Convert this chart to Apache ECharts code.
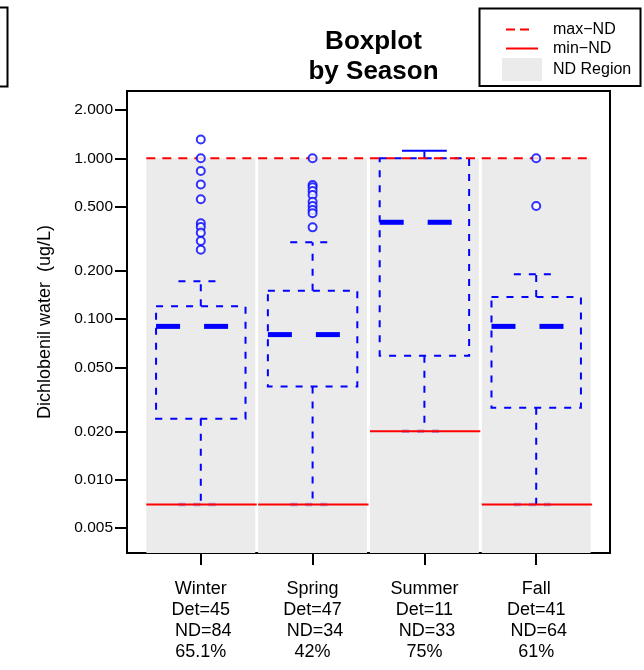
<!DOCTYPE html>
<html><head><meta charset="utf-8">
<script src="https://cdn.jsdelivr.net/npm/echarts@6/dist/echarts.min.js"></script>
<style>html,body{margin:0;padding:0;background:#fff}#c{width:644px;height:670px}</style>
</head><body><div id="c"></div>
<script>
// ---- data ----
const categories = ['Winter', 'Spring', 'Summer', 'Fall'];
const detCounts = [45, 47, 11, 41];
const ndCounts = [84, 34, 33, 64];
const ndPercent = ['65.1%', '42%', '75%', '61%'];
const maxND = [1.0, 1.0, 1.0, 1.0];
const minND = [0.007, 0.007, 0.02, 0.007];
const whiskerLow = [0.007, 0.007, 0.02, 0.007];
const q1 = [0.024, 0.038, 0.059, 0.028];
const median = [0.09, 0.08, 0.40, 0.09];
const q3 = [0.12, 0.15, 1.0, 0.137];
const whiskerHigh = [0.172, 0.30, 1.115, 0.19];
const outliersWinter = [1.31, 1.0, 0.834, 0.687, 0.556, 0.394, 0.374, 0.344, 0.306, 0.270];
const outliersSpring = [1.0, 0.682, 0.66, 0.626, 0.591, 0.537, 0.505, 0.477, 0.455, 0.372];
const outliersSummer = [];
const outliersFall = [1.0, 0.505];
const yTickValues = [0.005, 0.01, 0.02, 0.05, 0.1, 0.2, 0.5, 1, 2];
const yMin = 0.0035, yMax = 2.624;

// ---- build ----
const L = Math.log10;
const FONT = "'Liberation Sans', Arial, Helvetica, sans-serif";
const BLUE = '#0000ff', RED = '#ff0000', GRAY = '#ebebeb';
const DASH = [7, 8];
const outliers = [outliersWinter, outliersSpring, outliersSummer, outliersFall];

const boxRows = categories.map((c, i) => [i + 1, L(whiskerLow[i]), L(q1[i]), L(median[i]), L(q3[i]), L(whiskerHigh[i])]);
const ndRows = categories.map((c, i) => [i + 1, L(minND[i]), L(maxND[i])]);
const outlierPts = [];
outliers.forEach((arr, i) => arr.forEach(v => outlierPts.push([i + 1, L(v)])));

function renderGray(params, api) {
  const x = api.value(0);
  const a = api.coord([x - 0.487, api.value(2)]);
  const b = api.coord([x + 0.487, api.value(2)]);
  const bottomY = params.coordSys.y + params.coordSys.height;
  return { type: 'rect', shape: { x: a[0], y: a[1], width: b[0] - a[0], height: bottomY - a[1] }, style: { fill: GRAY } };
}
function renderRed(params, api) {
  const x = api.value(0);
  const a = api.coord([x - 0.487, api.value(1)]);
  const b = api.coord([x + 0.5, api.value(1)]);
  const c = api.coord([x - 0.487, api.value(2)]);
  const d = api.coord([x + 0.5, api.value(2)]);
  return { type: 'group', children: [
    { type: 'line', shape: { x1: a[0], y1: a[1], x2: b[0], y2: b[1] }, style: { stroke: RED, lineWidth: 2 } },
    { type: 'line', shape: { x1: c[0], y1: c[1], x2: d[0], y2: d[1] }, style: { stroke: RED, lineWidth: 2, lineDash: [9, 7] } }
  ] };
}
function renderBox(params, api) {
  const c = api.value(0);
  const lo = api.value(1), v1 = api.value(2), md = api.value(3), v3 = api.value(4), hi = api.value(5);
  const p = (dx, v) => api.coord([c + dx, v]);
  const tl = p(-0.4, v3), br = p(0.4, v1);
  const m1 = p(-0.4, md), m2 = p(0.4, md);
  const wt = p(0, v3), wh = p(0, hi), wb = p(0, v1), wl = p(0, lo);
  const s1 = p(-0.2, hi), s2 = p(0.2, hi), l1 = p(-0.2, lo), l2 = p(0.2, lo);
  const shortUpper = Math.abs(wt[1] - wh[1]) < 15;
  const ls = { stroke: BLUE, lineWidth: 2, lineDash: DASH, fill: null };
  return { type: 'group', children: [
    { type: 'rect', shape: { x: tl[0], y: tl[1], width: br[0] - tl[0], height: br[1] - tl[1] }, style: ls },
    { type: 'line', shape: { x1: wt[0], y1: wt[1], x2: wh[0], y2: wh[1] }, style: ls },
    { type: 'line', shape: { x1: s1[0], y1: s1[1], x2: s2[0], y2: s2[1] }, style: shortUpper ? { stroke: BLUE, lineWidth: 2 } : ls },
    { type: 'line', shape: { x1: wb[0], y1: wb[1], x2: wl[0], y2: wl[1] }, style: ls },
    { type: 'line', shape: { x1: l1[0], y1: l1[1], x2: l2[0], y2: l2[1] }, style: { stroke: BLUE, lineWidth: 3.5, lineDash: DASH, opacity: 0.3 } },
    { type: 'line', shape: { x1: m1[0], y1: m1[1], x2: m2[0], y2: m2[1] }, style: { stroke: BLUE, lineWidth: 5, lineDash: [24, 24] } }
  ] };
}

const chart = echarts.init(document.getElementById('c'), null, { renderer: 'canvas' });
chart.setOption({
  animation: false,
  backgroundColor: '#fff',
  textStyle: { fontFamily: FONT },
  title: {
    text: 'Boxplot\nby Season', left: 368.5, top: 22, textAlign: 'center',
    textStyle: { fontFamily: FONT, fontSize: 26, fontWeight: 'bold', color: '#000', lineHeight: 30 }
  },
  grid: { left: 127, top: 91, width: 483, height: 462, show: true, borderColor: '#000', borderWidth: 2, backgroundColor: 'transparent' },
  xAxis: {
    type: 'value', min: 0.34, max: 4.66,
    splitLine: { show: false },
    axisLine: { show: true, onZero: false, lineStyle: { color: '#000', width: 2 } },
    axisTick: { show: true, length: 12, lineStyle: { color: '#000', width: 2 }, customValues: [1, 2, 3, 4] },
    axisLabel: {
      customValues: [1, 2, 3, 4], margin: 26, fontSize: 18, lineHeight: 21, color: '#000', fontFamily: FONT,
      formatter: v => {
        const i = Math.round(v) - 1;
        return categories[i] + '\nDet=' + detCounts[i] + '\n ND=' + ndCounts[i] + '\n' + ndPercent[i];
      }
    }
  },
  yAxis: {
    type: 'value', min: L(yMin), max: L(yMax),
    name: 'Dichlobenil water  (ug/L)', nameLocation: 'middle', nameGap: 73,
    nameTextStyle: { fontSize: 18, color: '#000', fontFamily: FONT },
    splitLine: { show: false },
    axisLine: { show: true, onZero: false, lineStyle: { color: '#000', width: 2 } },
    axisTick: { show: true, length: 12, lineStyle: { color: '#000', width: 2 }, customValues: yTickValues.map(L) },
    axisLabel: {
      customValues: yTickValues.map(L), margin: 14, fontSize: 15.5, color: '#000', fontFamily: FONT,
      formatter: v => Math.pow(10, v).toFixed(3)
    }
  },
  series: [
    { type: 'custom', z: 1, renderItem: renderGray, data: ndRows, silent: true },
    { type: 'custom', z: 2, renderItem: renderBox, data: boxRows, silent: true },
    { type: 'custom', z: 3, renderItem: renderRed, data: ndRows, silent: true },
    { type: 'scatter', z: 4, data: outlierPts, symbol: 'emptyCircle', symbolSize: 8,
      itemStyle: { color: BLUE, borderColor: BLUE, borderWidth: 2 }, silent: true }
  ],
  graphic: [
    { type: 'rect', shape: { x: -10, y: 7.5, width: 17.5, height: 79 }, style: { fill: '#fff', stroke: '#000', lineWidth: 2 } },
    { type: 'rect', shape: { x: 479.5, y: 8.5, width: 161, height: 77.5 }, style: { fill: '#fff', stroke: '#000', lineWidth: 2 } },
    { type: 'line', shape: { x1: 506, y1: 29.5, x2: 530, y2: 29.5 }, style: { stroke: RED, lineWidth: 2, lineDash: [9, 5] } },
    { type: 'line', shape: { x1: 506, y1: 48.5, x2: 538, y2: 48.5 }, style: { stroke: RED, lineWidth: 2 } },
    { type: 'rect', shape: { x: 502, y: 58, width: 40, height: 23 }, style: { fill: GRAY } },
    { type: 'text', x: 553, y: 29.5, style: { text: 'max−ND', fontSize: 16, fontFamily: FONT, fill: '#000', verticalAlign: 'middle' } },
    { type: 'text', x: 553, y: 48.5, style: { text: 'min−ND', fontSize: 16, fontFamily: FONT, fill: '#000', verticalAlign: 'middle' } },
    { type: 'text', x: 553, y: 69.5, style: { text: 'ND Region', fontSize: 16, fontFamily: FONT, fill: '#000', verticalAlign: 'middle' } }
  ]
});
</script>
</body></html>
